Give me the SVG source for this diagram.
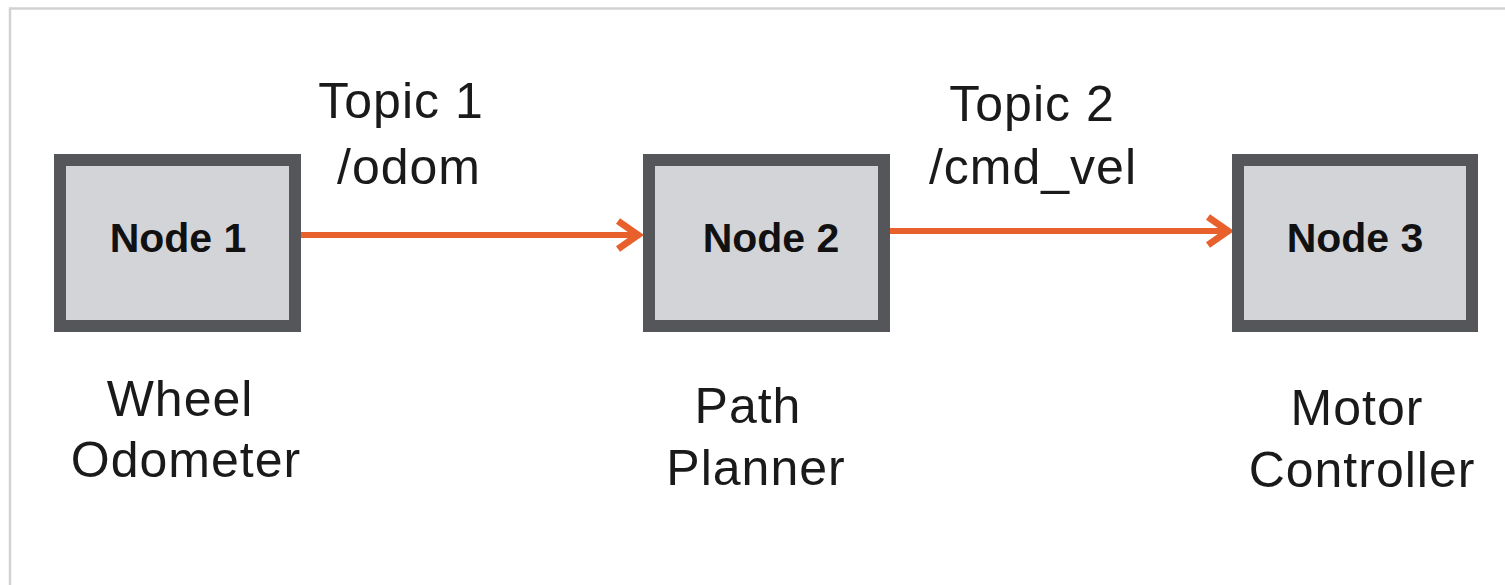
<svg xmlns="http://www.w3.org/2000/svg" width="1505" height="585" viewBox="0 0 1505 585">
<style>
.box{fill:#d3d4d8;stroke:#555659;stroke-width:12}
.nl{font-family:"Liberation Sans",Arial,sans-serif;font-weight:bold;font-size:41px;fill:#111;text-anchor:middle}
.lb{font-family:"Liberation Sans",Arial,sans-serif;font-size:50px;letter-spacing:1px;fill:#1a1a1a;text-anchor:middle}
.edge{stroke:#e8602c;stroke-width:6;fill:none}
</style>
<defs>
<marker id="ah" markerUnits="userSpaceOnUse" markerWidth="40" markerHeight="40" viewBox="-30 -20 40 40" refX="0" refY="0" orient="auto">
<path d="M-22,-14 L-2,0 L-22,14" fill="none" stroke="#e8602c" stroke-width="7" stroke-linejoin="miter" stroke-linecap="butt"/>
</marker>
</defs>
<rect x="0" y="0" width="1505" height="585" fill="#ffffff"/>
<path d="M10,585 L10,8.5 L1505,8.5" fill="none" stroke="#d2d2d2" stroke-width="2.5"/>
<g id="connectors">
<path class="edge" d="M301,235 L640,235" marker-end="url(#ah)"/>
<path class="edge" d="M890,231 L1230,231" marker-end="url(#ah)"/>
</g>
<g id="node1">
<rect class="box" x="60" y="160" width="235" height="166"/>
<text class="nl" x="178" y="252">Node 1</text>
</g>
<g id="node2">
<rect class="box" x="649" y="160" width="235" height="166"/>
<text class="nl" x="771" y="252">Node 2</text>
</g>
<g id="node3">
<rect class="box" x="1238" y="160" width="234" height="166"/>
<text class="nl" x="1355" y="252">Node 3</text>
</g>
<g id="labels">
<text class="lb" x="401" y="118">Topic 1</text>
<text class="lb" x="409" y="184">/odom</text>
<text class="lb" x="1032" y="121">Topic 2</text>
<text class="lb" x="1033" y="184">/cmd_vel</text>
<text class="lb" x="180" y="416">Wheel</text>
<text class="lb" x="186" y="477">Odometer</text>
<text class="lb" x="748" y="423">Path</text>
<text class="lb" x="756" y="485">Planner</text>
<text class="lb" x="1357" y="425">Motor</text>
<text class="lb" x="1362" y="487">Controller</text>
</g>
</svg>
